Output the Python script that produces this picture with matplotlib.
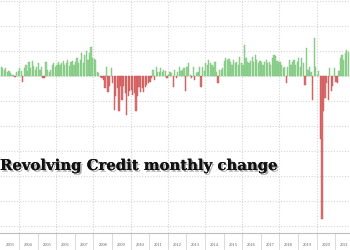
import matplotlib
matplotlib.use("Agg")
import matplotlib.pyplot as plt
import matplotlib.patheffects as pe
import numpy as np

# Monthly change in revolving credit ($bn), Jan 2003 .. Sep 2021
v2003 = [3.5, 3.0, 2.5, 3.0, 1.5, 2.0, 1.0, 0.5, 0.3, -0.3, 1.5, 2.0]
v2004 = [3.0, 1.8, -2.3, 3.0, 4.4, 2.0, 5.7, 3.0, 6.0, 4.0, 2.5, 3.5]
v2005 = [5.0, 2.5, 3.5, -0.8, -1.0, 5.7, 2.5, 1.7, 2.5, 4.4, 5.0, 3.5]
v2006 = [4.5, 5.5, 4.5, 5.0, 6.0, 4.5, 5.0, 6.5, 4.0, 5.5, 6.0, 4.5]
v2007 = [5.5, 7.0, 5.0, 6.5, 9.0, 5.0, 8.5, 10.0, 6.5, 9.0, 11.5, 7.0]
v2008 = [6.7, 6.4, 1.7, 1.0, -0.5, -1.0, -1.5, -5.0, 3.7, -6.3, -4.0, 3.0]
v2009 = [-3.0, -13.6, -8.0, -5.0, -14.0, -4.0, -9.6, -4.0, -7.0, -15.6, -8.0, -6.0]
v2010 = [-5.6, -7.6, -7.0, -14.0, -8.0, -4.3, -6.3, -5.0, -6.3, -4.3, -3.6, -3.0]
v2011 = [-2.3, -1.0, 2.4, -1.5, 3.7, 1.5, 1.7, 3.0, 1.5, 2.5, 2.0, -1.0]
v2012 = [0.5, 1.7, 1.0, -4.5, 2.4, -1.0, 1.7, 3.7, 2.0, 2.4, 3.0, -6.0]
v2013 = [3.7, 5.0, 0.5, -1.0, 3.7, -1.6, 1.0, 1.7, 3.7, -4.5, 3.7, 2.0]
v2014 = [5.0, 4.4, 6.4, 5.0, 4.4, 3.7, 5.7, 1.7, -3.0, 2.4, 2.4, 3.0]
v2015 = [6.0, 7.0, 6.4, 6.7, 5.7, 4.4, 6.4, 5.0, 5.7, 4.4, 7.7, 5.0]
v2016 = [4.4, 12.4, 7.0, 5.7, 5.0, 6.0, 7.7, 5.7, 8.4, 6.4, 5.0, 6.0]
v2017 = [5.7, 4.4, 5.7, 6.4, 5.0, 5.7, 4.4, 7.0, 8.4, 8.0, 6.0, 5.7]
v2018 = [5.7, 4.4, 3.0, 3.7, -2.7, 3.7, 6.4, 4.4, 5.7, 6.4, 4.4, 5.7]
v2019 = [7.0, 3.7, 7.0, 5.0, -3.6, 11.0, 2.4, 3.7, 1.7, -9.6, 15.3, 3.7]
v2020 = [0.5, 2.0, -25.0, -57.0, -14.0, -9.0, -3.0, -9.6, 3.0, -6.0, -4.0, 3.0]
v2021 = [-2.3, -3.0, 2.0, 7.0, 8.4, 6.4, 9.0, 10.4, 9.7]

values = np.array(v2003 + v2004 + v2005 + v2006 + v2007 + v2008 + v2009 + v2010
                  + v2011 + v2012 + v2013 + v2014 + v2015 + v2016 + v2017 + v2018
                  + v2019 + v2020 + v2021)
years = list(range(2003, 2022))
year_labels = [str(y) for y in years]

x = 2003 + (np.arange(len(values)) + 0.5) / 12.0
colors = np.where(values >= 0, '#93d493', '#de6e6e')
edges = np.where(values >= 0, '#7cc47c', '#c95555')

fig = plt.figure(figsize=(3.5, 2.5), dpi=100)
ax = fig.add_axes([0, 0.068, 1, 0.932])
ax.bar(x, values, width=1/12 * 0.8, color=colors, edgecolor=edges, linewidth=0.3, zorder=3)

ax.set_xlim(2002.98, 2021.80)
ax.set_ylim(-62.8, 30.4)

ax.set_yticks([30, 20, 10, 0, -10, -20, -30, -40, -50, -60])
ax.set_yticklabels([])
ax.tick_params(axis='y', length=0)

ax.set_xticks(range(2004, 2022, 2))
ax.set_xticklabels([])
ax.tick_params(axis='x', which='major', length=0)
ax.grid(True, which='major', color='#d6d6d6', linestyle=(0, (1, 1.5)), linewidth=0.8, zorder=0)

# year separators and labels
for y in range(2004, 2022):
    ax.plot([y, y], [0, -0.08], transform=ax.get_xaxis_transform(), color='#d6d6d6',
            linewidth=0.6, clip_on=False)
for y, lab in zip(years, year_labels):
    ax.text(y + 0.5, -0.05, lab, transform=ax.get_xaxis_transform(), ha='center',
            va='center', fontsize=3.2, color='#555555', family='Liberation Serif')

for s in ['top', 'right', 'left']:
    ax.spines[s].set_visible(False)
ax.spines['bottom'].set_color('#bdbdbd')
ax.spines['bottom'].set_linewidth(0.8)

fig.text(0.0, 0.32, 'Revolving Credit monthly change', fontsize=10.7,
         fontweight='bold', family='DejaVu Serif', color='#111111', va='baseline',
         path_effects=[pe.withSimplePatchShadow(offset=(1.2, -1.2), shadow_rgbFace='#777777', alpha=0.6),
                       pe.Normal()])

fig.savefig('out.png', dpi=100)
